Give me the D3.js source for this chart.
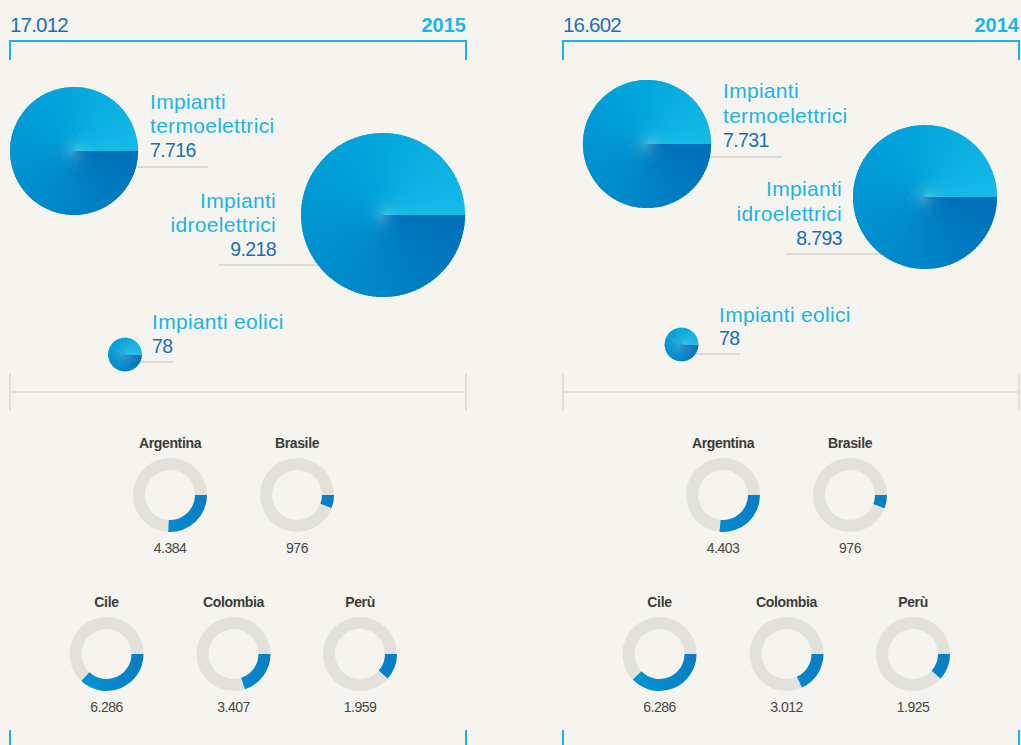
<!DOCTYPE html>
<html>
<head>
<meta charset="utf-8">
<script src="https://cdn.jsdelivr.net/npm/d3@7"></script>
<style>
  html, body { margin: 0; padding: 0; background: #f5f4ee; }
  svg { display: block; font-family: "Liberation Sans", Arial, sans-serif; }
</style>
</head>
<body>
<div id="chart"></div>
<script>
// --- data ---
const years = ["2015", "2014"];
const totals = [17012, 16602];
const plantLabels = [["Impianti", "termoelettrici"], ["Impianti", "idroelettrici"], ["Impianti eolici"]];
const plants2015 = [7716, 9218, 78];
const plants2014 = [7731, 8793, 78];
const countries = ["Argentina", "Brasile", "Cile", "Colombia", "Perù"];
const countries2015 = [4384, 976, 6286, 3407, 1959];
const countries2014 = [4403, 976, 6286, 3012, 1925];

const it = d3.formatLocale({ decimal: ",", thousands: ".", grouping: [3], currency: ["€", ""] });
const fmt = it.format(",d");

const W = 1021, H = 745;
const svg = d3.select("#chart").append("svg").attr("width", W).attr("height", H);
svg.append("rect").attr("width", W).attr("height", H).attr("fill", "#f5f4ee");

// bubble sizes are not proportional in the original, so a piecewise scale
const rScale = d3.scaleLinear().domain([78, 7716, 8793, 9218]).range([16.8, 64, 72, 82]);

// conic-ish shading of the bubbles
const shade = d3.interpolateRgbBasis(["#006fb7", "#0084c7", "#0097d4", "#00a6dc", "#17bbe8"]);

// layout of each panel (relative to panel left)
const panels = [
  {
    x0: 10, w: 456, year: years[0], total: totals[0], plants: plants2015, countries: countries2015,
    pies: [
      { cx: 64, cy: 151, lx: 140, anchor: "start", ly: [109, 133, 157], lineY: 167, lineEnd: 198 },
      { cx: 373, cy: 215, lx: 266, anchor: "end", ly: [208, 232, 256], lineY: 265, lineEnd: 209 },
      { cx: 115, cy: 354.5, lx: 142, anchor: "start", ly: [329, 353], lineY: 362, lineEnd: 163 }
    ]
  },
  {
    x0: 563, w: 456, year: years[1], total: totals[1], plants: plants2014, countries: countries2014,
    pies: [
      { cx: 84, cy: 144, lx: 160, anchor: "start", ly: [98, 122.5, 147], lineY: 157, lineEnd: 219 },
      { cx: 362, cy: 197, lx: 279, anchor: "end", ly: [196, 220.5, 245], lineY: 254, lineEnd: 223 },
      { cx: 118.5, cy: 344.5, lx: 156, anchor: "start", ly: [322, 345], lineY: 354, lineEnd: 177 }
    ]
  }
];

// donut grid positions (relative to panel left)
const donutPos = [
  { cx: 160, cy: 495 }, { cx: 287, cy: 495 },
  { cx: 96.5, cy: 654 }, { cx: 223.5, cy: 654 }, { cx: 350, cy: 654 }
];

const defs = svg.append("defs");

panels.forEach((p, pi) => {
  const g = svg.append("g").attr("transform", `translate(${p.x0},0)`);

  // top bracket
  g.append("path")
    .attr("d", `M0,60V41H${p.w}V60`)
    .attr("fill", "none").attr("stroke", "#1bb3e6").attr("stroke-width", 2);
  g.append("text").attr("x", 0).attr("y", 31.5)
    .attr("font-size", 20.5).attr("letter-spacing", -0.8).attr("fill", "#1a70b8")
    .text(fmt(p.total));
  g.append("text").attr("x", p.w).attr("y", 31.5).attr("text-anchor", "end")
    .attr("font-size", 20).attr("font-weight", "bold").attr("fill", "#1db4e8")
    .text(p.year);

  // middle grey bracket
  g.append("path")
    .attr("d", `M0,373V411M0,392H${p.w}M${p.w},373V411`)
    .attr("fill", "none").attr("stroke", "#e2e0d9").attr("stroke-width", 2);

  // bottom blue ticks
  g.append("path")
    .attr("d", `M0,730V745M${p.w},730V745`)
    .attr("fill", "none").attr("stroke", "#1bb3e6").attr("stroke-width", 2);

  // bubbles
  p.plants.forEach((v, i) => {
    const L = p.pies[i];
    const r = rScale(v);

    g.append("line")
      .attr("x1", L.cx).attr("x2", L.lineEnd)
      .attr("y1", L.lineY).attr("y2", L.lineY)
      .attr("stroke", "#dddbd5").attr("stroke-width", 2);

    const n = 120;
    const step = (2 * Math.PI) / n;
    const segs = d3.range(n).map((k) => ({
      startAngle: Math.PI / 2 + k * step,
      endAngle: Math.PI / 2 + (k + 1) * step + (k < n - 1 ? step * 0.6 : 0),
      t: (k + 0.5) / n
    }));
    const arc = d3.arc().innerRadius(0).outerRadius(r);
    g.append("g").attr("transform", `translate(${L.cx},${L.cy})`)
      .selectAll("path").data(segs).join("path")
      .attr("d", arc)
      .attr("fill", (d) => shade(d.t));

    const lines = plantLabels[i];
    const t = g.append("g").attr("text-anchor", L.anchor);
    lines.forEach((s, j) => {
      t.append("text").attr("x", L.lx).attr("y", L.ly[j])
        .attr("font-size", 21).attr("letter-spacing", 0.3).attr("fill", "#1ab4e6")
        .text(s);
    });
    t.append("text").attr("x", L.lx).attr("y", L.ly[lines.length])
      .attr("font-size", 19.5).attr("letter-spacing", -0.6).attr("fill", "#1a6fb6")
      .text(fmt(v));
  });

  // country donuts
  const outer = 37, inner = 25;
  const angle = d3.scaleLinear().domain([0, p.total]).range([0, 2 * Math.PI]);
  const ring = d3.arc().innerRadius(inner).outerRadius(outer);

  p.countries.forEach((v, i) => {
    const pos = donutPos[i];
    const gid = `dg${pi}_${i}`;
    defs.append("linearGradient").attr("id", gid)
      .attr("gradientUnits", "userSpaceOnUse")
      .attr("x1", -outer).attr("x2", outer).attr("y1", 0).attr("y2", 0)
      .call((lg) => {
        lg.append("stop").attr("offset", 0).attr("stop-color", "#0099d7");
        lg.append("stop").attr("offset", 1).attr("stop-color", "#0a7cc4");
      });

    const dg = g.append("g").attr("transform", `translate(${pos.cx},${pos.cy})`);
    dg.append("path")
      .attr("d", ring({ startAngle: 0, endAngle: 2 * Math.PI }))
      .attr("fill", "#e2e1db");
    dg.append("path")
      .attr("d", ring({ startAngle: Math.PI / 2, endAngle: Math.PI / 2 + angle(v) }))
      .attr("fill", `url(#${gid})`);

    dg.append("text").attr("y", -47).attr("text-anchor", "middle")
      .attr("font-size", 14).attr("font-weight", "bold").attr("letter-spacing", -0.35)
      .attr("fill", "#3c3c3b").text(countries[i]);
    dg.append("text").attr("y", 58).attr("text-anchor", "middle")
      .attr("font-size", 14).attr("letter-spacing", -0.5)
      .attr("fill", "#474745").text(fmt(v));
  });
});
</script>
</body>
</html>
